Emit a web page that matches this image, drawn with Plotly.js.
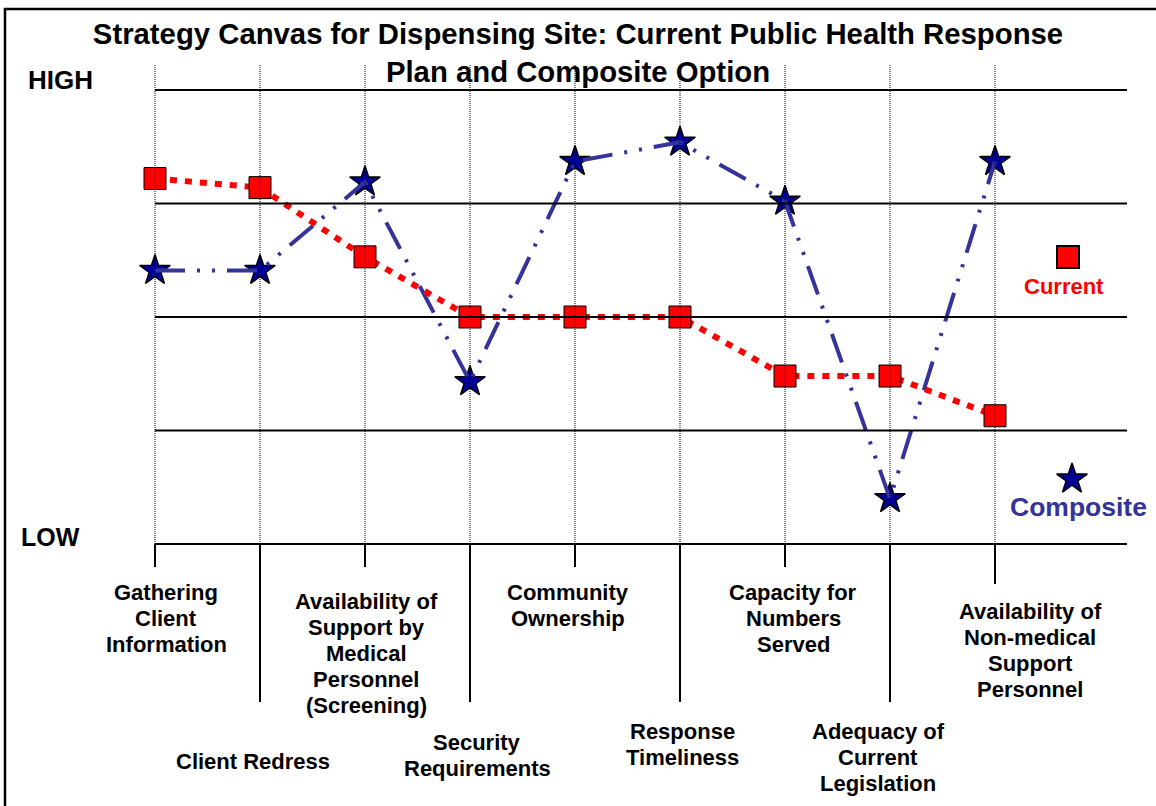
<!DOCTYPE html>
<html><head><meta charset="utf-8">
<script src="https://cdn.plot.ly/plotly-3.0.1.min.js"></script>
<style>html,body{margin:0;padding:0;background:#fff;} #chart{width:1156px;height:806px;}</style>
</head><body><div id="chart"></div>
<script>
// ---------- data ----------
const chartTitle = "Strategy Canvas for Dispensing Site: Current Public Health Response<br>Plan and Composite Option";
const factors = [
  "Gathering<br>Client<br>Information",
  "Client Redress",
  "Availability of<br>Support by<br>Medical<br>Personnel<br>(Screening)",
  "Security<br>Requirements",
  "Community<br>Ownership",
  "Response<br>Timeliness",
  "Capacity for<br>Numbers<br>Served",
  "Adequacy of<br>Current<br>Legislation",
  "Availability of<br>Non-medical<br>Support<br>Personnel"
];
const levels = [0, 1, 2, 3, 4];
const currentValues   = [3.22, 3.14, 2.53, 2.00, 2.00, 2.00, 1.48, 1.48, 1.13];
const compositeValues = [2.41, 2.41, 3.19, 1.43, 3.37, 3.54, 3.02, 0.40, 3.37];
const seriesNames = ["Current", "Composite"];
const scaleHigh = "HIGH", scaleLow = "LOW";

// ---------- layout / style (pixel placement) ----------
const W = 1156, H = 806;
const X0PX = 155, XSTEP = 105, Y0PX = 544, YSTEP = 113.5;
const xRange = [(0 - X0PX) / XSTEP, (W - X0PX) / XSTEP];
const yRange = [(Y0PX - H) / YSTEP, Y0PX / YSTEP];
const gridEndX = (1127 - X0PX) / XSTEP;
const labelPlace = [
  {dx: 11, top: 592}, {dx: -7, top: 761}, {dx: 1, top: 601}, {dx: 7, top: 742},
  {dx: -7, top: 592}, {dx: 2, top: 731}, {dx: 8, top: 592}, {dx: -12, top: 731},
  {dx: 35, top: 611}
];
const tickEnd = [567, 702, 567, 702, 567, 702, 567, 702, 584];
const LINE_GAP = 26;
const FONT = "Liberation Sans, Arial, Helvetica, sans-serif";
const RED = "#FF0000", BLUE_LINE = "#333399", STAR_FILL = "#000099";

const idx = factors.map((_, i) => i);

const traces = [
  { // composite stars
    x: idx, y: compositeValues, mode: "markers", name: seriesNames[1],
    marker: {symbol: "star", size: 23, color: STAR_FILL, line: {color: "#000", width: 1.5}},
    hoverinfo: "skip"
  },
  { // composite line drawn above the stars
    x: idx, y: compositeValues, mode: "lines", name: seriesNames[1],
    line: {color: BLUE_LINE, width: 4, dash: "30px,12px,3px,12px,3px,12px"},
    hoverinfo: "skip"
  },
  { // current
    x: idx, y: currentValues, mode: "lines+markers", name: seriesNames[0],
    line: {color: RED, width: 6, dash: "7px,8px"},
    marker: {symbol: "square", size: 22, color: RED, line: {color: "#000", width: 1}},
    hoverinfo: "skip"
  },
  { // legend key: current
    x: [1068], y: [257], xaxis: "x2", yaxis: "y2", mode: "markers",
    marker: {symbol: "square", size: 22, color: RED, line: {color: "#000", width: 2}},
    hoverinfo: "skip"
  },
  { // legend key: composite
    x: [1072], y: [479], xaxis: "x2", yaxis: "y2", mode: "markers",
    marker: {symbol: "star", size: 23, color: STAR_FILL, line: {color: "#000", width: 1.5}},
    hoverinfo: "skip"
  }
];

const shapes = [];
// horizontal level lines
levels.forEach(v => shapes.push({type: "line", xref: "x", yref: "y", x0: 0, x1: gridEndX, y0: v, y1: v,
  line: {color: "#000", width: 2}}));
// vertical dotted lines and bottom ticks
idx.forEach(i => {
  shapes.push({type: "line", xref: "x", yref: "y2", x0: i, x1: i, y0: 65, y1: Y0PX,
    line: {color: "#000", width: 1, dash: "1px,1px"}});
  shapes.push({type: "line", xref: "x", yref: "y2", x0: i, x1: i, y0: Y0PX, y1: tickEnd[i],
    line: {color: "#000", width: 2}});
});
// frame (top and left)
shapes.push({type: "path", xref: "x2", yref: "y2", path: "M 1156 9 L 5 9 L 5 806",
  line: {color: "#000", width: 2.5}});

const annotations = [];
factors.forEach((lab, i) => {
  lab.split("<br>").forEach((ln, k) => {
    annotations.push({text: ln, xref: "x", yref: "y2", x: i, xshift: labelPlace[i].dx,
      y: labelPlace[i].top + k * LINE_GAP, xanchor: "center", yanchor: "middle", showarrow: false,
      font: {family: FONT, size: 22, color: "#000", weight: 700}});
  });
});
annotations.push({text: scaleHigh, xref: "x2", yref: "y2", x: 60, y: 80, showarrow: false,
  xanchor: "center", yanchor: "middle", font: {family: FONT, size: 26, color: "#000", weight: 700}});
annotations.push({text: scaleLow, xref: "x2", yref: "y2", x: 50, y: 537, showarrow: false,
  xanchor: "center", yanchor: "middle", font: {family: FONT, size: 25, color: "#000", weight: 700}});
annotations.push({text: seriesNames[0], xref: "x2", yref: "y2", x: 1064, y: 286, showarrow: false,
  xanchor: "center", yanchor: "middle", font: {family: FONT, size: 22, color: RED, weight: 700}});
annotations.push({text: seriesNames[1], xref: "x2", yref: "y2", x: 1078, y: 507, showarrow: false,
  xanchor: "center", yanchor: "middle", font: {family: FONT, size: 26.5, color: BLUE_LINE, weight: 700}});

const layout = {
  width: W, height: H, autosize: false,
  margin: {l: 0, r: 0, t: 0, b: 0, pad: 0},
  paper_bgcolor: "#fff", plot_bgcolor: "#fff",
  showlegend: false, hovermode: false,
  title: {text: chartTitle, x: 0.5, xanchor: "center", xref: "paper",
    y: 1 - 44 / H, yanchor: "middle", yref: "paper",
    font: {family: FONT, size: 29.3, color: "#000", weight: 700}},
  xaxis: {range: xRange, visible: false, fixedrange: true},
  yaxis: {range: yRange, visible: false, fixedrange: true},
  xaxis2: {range: [0, W], overlaying: "x", visible: false, fixedrange: true},
  yaxis2: {range: [H, 0], overlaying: "y", visible: false, fixedrange: true},
  shapes: shapes,
  annotations: annotations
};

Plotly.newPlot("chart", traces, layout, {staticPlot: true, displayModeBar: false});
</script>
</body></html>
